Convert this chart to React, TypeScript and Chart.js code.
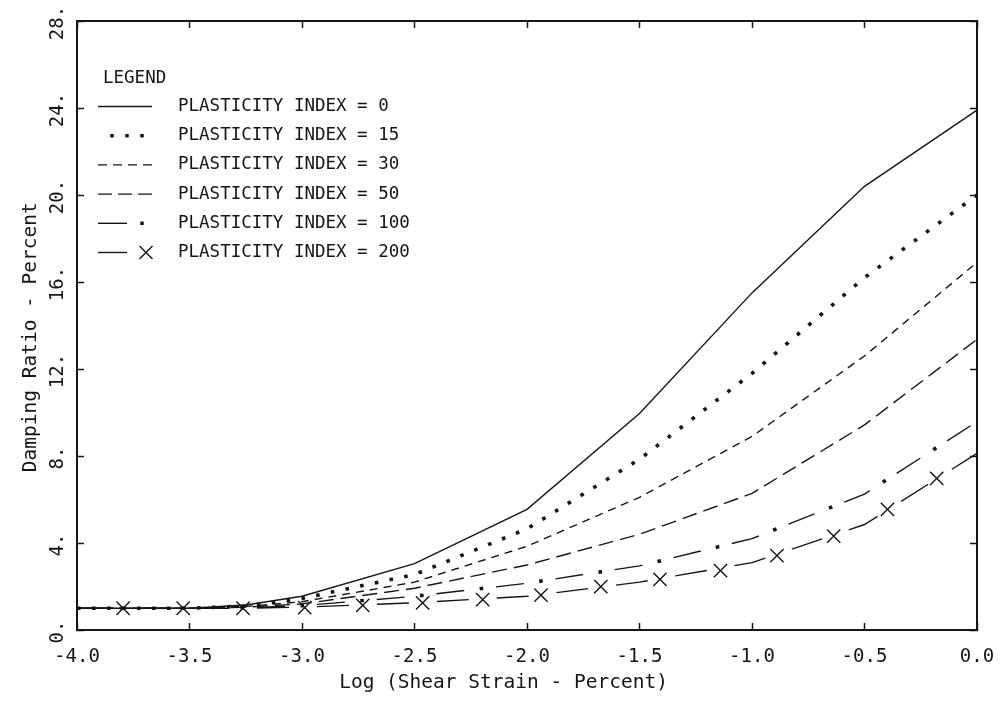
import React, { useEffect, useRef } from "react";
import { Chart, registerables } from "chart.js";

Chart.register(...registerables);

// ---- data ----
const strainLog = [-4.0, -3.5, -3.25, -3.0, -2.5, -2.0, -1.5, -1.0, -0.5, 0.0];
const dampingPI0 = [1.0, 1.0, 1.15, 1.55, 3.05, 5.55, 9.95, 15.5, 20.4, 23.9];
const dampingPI15 = [1.0, 1.0, 1.1, 1.45, 2.55, 4.65, 7.85, 11.8, 16.2, 20.0];
const dampingPI30 = [1.0, 1.0, 1.08, 1.3, 2.2, 3.85, 6.1, 8.9, 12.6, 16.9];
const dampingPI50 = [1.0, 1.0, 1.05, 1.2, 1.92, 2.99, 4.4, 6.28, 9.43, 13.36];
const dampingPI100 = [1.0, 1.0, 1.02, 1.12, 1.55, 2.15, 2.95, 4.2, 6.25, 9.58];
const dampingPI200 = [1.0, 1.0, 1.0, 1.05, 1.25, 1.55, 2.2, 3.1, 4.85, 8.12];

// X symbols drawn along the PI = 200 curve
const markerStrainLog = [-3.795, -3.528, -3.262, -2.988, -2.73, -2.464, -2.197, -1.938, -1.672, -1.409, -1.14, -0.889, -0.637, -0.398, -0.179];
const markerDamping = [1.0, 1.0, 1.0, 1.03, 1.13, 1.25, 1.4, 1.6, 1.99, 2.33, 2.73, 3.42, 4.32, 5.55, 6.97];

const plasticityIndex = [0, 15, 30, 50, 100, 200];
const xTickValues = [-4.0, -3.5, -3.0, -2.5, -2.0, -1.5, -1.0, -0.5, 0.0];
const yTickValues = [0, 4, 8, 12, 16, 20, 24, 28];

const xTitle = "Log (Shear Strain - Percent)";
const yTitle = "Damping Ratio - Percent";
const legendTitle = "LEGEND";

// ---- styling ----
const FONT = "'DejaVu Sans Mono', 'Liberation Mono', monospace";
const INK = "#151515";
const LW = 1.4;

const pts = (xs: number[], ys: number[]) => xs.map((x, i) => ({ x, y: ys[i] }));

const legendPlugin = {
  id: "piLegend",
  afterDraw(chart: any) {
    const ctx: CanvasRenderingContext2D = chart.ctx;
    ctx.save();
    ctx.fillStyle = INK;
    ctx.strokeStyle = INK;
    ctx.font = `17.5px ${FONT}`;
    ctx.textBaseline = "middle";
    ctx.textAlign = "left";
    ctx.fillText(legendTitle, 103, 78);
    const x0 = 98;
    const x1 = 152;
    plasticityIndex.forEach((pi, i) => {
      const y = 106.5 + i * 29.2;
      ctx.fillText(`PLASTICITY INDEX = ${pi}`, 178, y);
      ctx.lineWidth = LW;
      ctx.setLineDash([]);
      const line = (a: number, b: number, dash: number[] = []) => {
        ctx.setLineDash(dash);
        ctx.beginPath();
        ctx.moveTo(a, y);
        ctx.lineTo(b, y);
        ctx.stroke();
        ctx.setLineDash([]);
      };
      const dot = (cx: number) => ctx.fillRect(cx - 1.75, y - 1.75, 3.5, 3.5);
      if (i === 0) line(x0, x1);
      if (i === 1) { dot(112); dot(127); dot(142); }
      if (i === 2) line(x0, x1, [9, 6]);
      if (i === 3) line(x0, x1, [14, 6]);
      if (i === 4) { line(x0, 127); dot(142); }
      if (i === 5) {
        line(x0, 127);
        ctx.beginPath();
        ctx.moveTo(139.5, y - 6.5); ctx.lineTo(152.5, y + 6.5);
        ctx.moveTo(139.5, y + 6.5); ctx.lineTo(152.5, y - 6.5);
        ctx.stroke();
      }
    });
    ctx.restore();
  },
};

export default function App() {
  const canvasRef = useRef<HTMLCanvasElement>(null);

  useEffect(() => {
    document.body.style.margin = "0";
    const canvas = canvasRef.current;
    if (!canvas) return;

    const lineBase = {
      borderColor: INK,
      backgroundColor: INK,
      borderWidth: LW,
      pointRadius: 0,
      tension: 0,
      fill: false,
    };

    const tickFont = { family: FONT, size: 19 };
    const gridCommon = {
      drawOnChartArea: false,
      drawTicks: true,
      tickLength: -7,
      tickWidth: 1.5,
      tickColor: INK,
    };
    const borderCommon = { display: true, color: INK, width: 2 };
    const noPad = (s: any) => {
      s.paddingLeft = 0;
      s.paddingRight = 0;
      s.paddingTop = 0;
      s.paddingBottom = 0;
    };

    const chart = new Chart(canvas, {
      type: "line",
      data: {
        datasets: [
          { ...lineBase, label: "PI 0", data: pts(strainLog, dampingPI0) },
          { ...lineBase, label: "PI 15", data: pts(strainLog, dampingPI15), borderWidth: 3.6, borderDash: [3.6, 11.4] },
          { ...lineBase, label: "PI 30", data: pts(strainLog, dampingPI30), borderDash: [8, 6] },
          { ...lineBase, label: "PI 50", data: pts(strainLog, dampingPI50), borderDash: [15, 7] },
          { ...lineBase, label: "PI 100", data: pts(strainLog, dampingPI100), borderDash: [28, 32] },
          { ...lineBase, label: "PI 100 dots", data: pts(strainLog, dampingPI100), borderWidth: 3.6, borderDash: [0, 43.5, 3.6, 12.9] },
          { ...lineBase, label: "PI 200", data: pts(strainLog, dampingPI200), borderDash: [32, 28] },
          {
            label: "PI 200 symbols",
            data: pts(markerStrainLog, markerDamping),
            showLine: false,
            pointStyle: "crossRot",
            pointRadius: 9.4,
            pointBorderWidth: LW,
            pointBorderColor: INK,
            pointBackgroundColor: INK,
            borderColor: INK,
          },
        ],
      },
      options: {
        responsive: false,
        animation: false,
        events: [],
        layout: { padding: { top: 21, right: 26, left: 0, bottom: 0 } },
        plugins: {
          legend: { display: false },
          tooltip: { enabled: false },
        },
        scales: {
          x: {
            type: "linear",
            position: "bottom",
            min: -4,
            max: 0,
            afterBuildTicks: (s: any) => { s.ticks = xTickValues.map((v) => ({ value: v })); },
            ticks: {
              font: tickFont,
              color: INK,
              padding: 23,
              maxRotation: 0,
              autoSkip: false,
              callback: (v: any) => Number(v).toFixed(1),
            },
            grid: gridCommon,
            border: borderCommon,
            title: {
              display: true,
              text: xTitle + "    ",
              font: { family: FONT, size: 19.5 },
              color: INK,
              padding: { top: 0, bottom: 12 },
            },
            afterFit: (s: any) => { s.height = 77; noPad(s); },
          },
          x2: {
            type: "linear",
            position: "top",
            min: -4,
            max: 0,
            afterBuildTicks: (s: any) => { s.ticks = xTickValues.map((v) => ({ value: v })); },
            ticks: { display: false },
            grid: gridCommon,
            border: borderCommon,
            afterFit: (s: any) => { s.height = 0; noPad(s); },
          },
          y: {
            type: "linear",
            position: "left",
            min: 0,
            max: 28,
            afterBuildTicks: (s: any) => { s.ticks = yTickValues.map((v) => ({ value: v })); },
            ticks: {
              font: tickFont,
              color: INK,
              padding: 9,
              minRotation: 90,
              maxRotation: 90,
              crossAlign: "center",
              labelOffset: 2,
              autoSkip: false,
              callback: (v: any) => `${v}.`,
            },
            grid: gridCommon,
            border: borderCommon,
            title: {
              display: true,
              text: yTitle + "  ",
              font: { family: FONT, size: 19.5 },
              color: INK,
              padding: { top: 19, bottom: 0 },
            },
            afterFit: (s: any) => { s.width = 77; noPad(s); },
          },
          y2: {
            type: "linear",
            position: "right",
            min: 0,
            max: 28,
            afterBuildTicks: (s: any) => { s.ticks = yTickValues.map((v) => ({ value: v })); },
            ticks: { display: false },
            grid: gridCommon,
            border: borderCommon,
            afterFit: (s: any) => { s.width = 0; noPad(s); },
          },
        },
      } as any,
      plugins: [legendPlugin],
    });

    return () => chart.destroy();
  }, []);

  return (
    <div style={{ width: 1003, height: 707, background: "#fff" }}>
      <canvas ref={canvasRef} width={1003} height={707} style={{ display: "block" }} />
    </div>
  );
}
